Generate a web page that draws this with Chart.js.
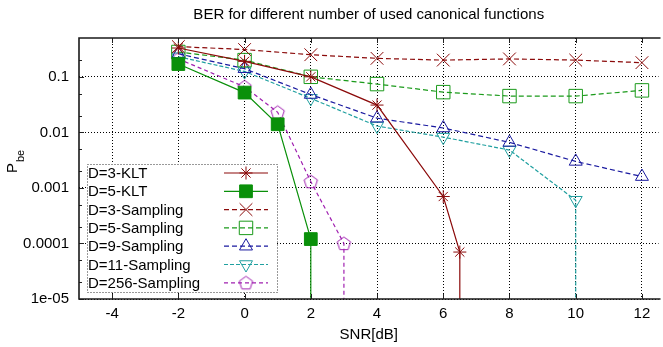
<!DOCTYPE html>
<html>
<head>
<meta charset="utf-8">
<script src="https://cdn.jsdelivr.net/npm/chart.js@4/dist/chart.umd.min.js"></script>
<style>
  html, body { margin: 0; padding: 0; background: #fff; overflow: hidden; }
  #wrap { width: 669px; height: 347px; }
</style>
</head>
<body>
<div id="wrap"><canvas id="myChart"></canvas></div>
<script>
// Data (x = SNR in dB, y = bit error probability)
const klt3X = [-2, 0, 2, 4, 6, 6.5, 6.5];
const klt3Y = [0.33, 0.19, 0.1, 0.031, 0.0007, 0.00007, 1e-8];

const klt5X = [-2, 0, 1, 2, 2];
const klt5Y = [0.17, 0.052, 0.014, 0.00012, 1e-8];

const samp3X = [-2, 0, 2, 4, 6, 8, 10, 12];
const samp3Y = [0.35, 0.31, 0.25, 0.215, 0.2, 0.21, 0.2, 0.18];

const samp5X = [-2, 0, 2, 4, 6, 8, 10, 12];
const samp5Y = [0.28, 0.2, 0.1, 0.074, 0.053, 0.045, 0.045, 0.057];

const samp9X = [-2, 0, 2, 4, 6, 8, 10, 12];
const samp9Y = [0.26, 0.14, 0.048, 0.018, 0.012, 0.0066, 0.003, 0.0016];

const samp11X = [-2, 0, 2, 4, 6, 8, 10, 10];
const samp11Y = [0.23, 0.125, 0.041, 0.013, 0.0082, 0.0048, 0.0006, 1e-8];

const samp256X = [-2, 0, 1, 2, 3, 3];
const samp256Y = [0.21, 0.066, 0.023, 0.0013, 0.0001, 1e-8];

const xTicks = [-4, -2, 0, 2, 4, 6, 8, 10, 12];
const yTicks = [1e-5, 1e-4, 1e-3, 1e-2, 1e-1];
const yTickLabels = ["1e-05", "0.0001", "0.001", "0.01", "0.1"];
const yMinorTicks = [2e-5, 5e-5, 2e-4, 5e-4, 2e-3, 5e-3, 2e-2, 5e-2, 0.2];

const X_MIN = -5, X_MAX = 12.5, Y_MIN = 1e-5, Y_MAX = 0.5;
const FONT = "'Liberation Sans', Arial, Helvetica, sans-serif";
const FS = 15;

function pts(xs, ys) {
    return xs.map((x, i) => ({ x: x, y: ys[i] }));
}

// pentagon marker (no built-in point style for it)
function pentagon(color) {
    const c = document.createElement("canvas");
    c.width = 17; c.height = 17;
    const g = c.getContext("2d");
    g.strokeStyle = color;
    g.lineWidth = 1;
    g.beginPath();
    for (let i = 0; i < 5; i++) {
        const a = -Math.PI / 2 + i * 2 * Math.PI / 5;
        const px = 8.5 + 7 * Math.cos(a), py = 9 + 7 * Math.sin(a);
        if (i === 0) g.moveTo(px, py); else g.lineTo(px, py);
    }
    g.closePath();
    g.stroke();
    return c;
}

const radius = (r) => (ctx) => (ctx.raw && ctx.raw.y < Y_MIN ? 0 : r);

function series(label, xs, ys, color, style, opts) {
    return Object.assign({
        label: label,
        data: pts(xs, ys),
        borderColor: color,
        backgroundColor: "rgba(0,0,0,0)",
        pointBorderColor: color,
        pointBackgroundColor: "rgba(0,0,0,0)",
        borderWidth: 1.2,
        pointBorderWidth: 1,
        pointStyle: style,
        pointRadius: radius(7),
        pointHoverRadius: 0,
        borderDash: [],
        tension: 0,
        fill: false
    }, opts || {});
}

const DARKRED = "#8b0a0a", GREEN = "#0a900a", GREEN2 = "#1a9a1a", BLUE = "#1a1aa0", TEAL = "#20a0a0", MAGENTA = "#a020b0";

const datasets = [
    series("D=3-KLT", klt3X, klt3Y, DARKRED, "star", { pointRadius: radius(6.5) }),
    series("D=5-KLT", klt5X, klt5Y, GREEN, "rect", { pointBackgroundColor: GREEN, pointRadius: radius(9) }),
    series("D=3-Sampling", samp3X, samp3Y, DARKRED, "crossRot", { borderDash: [5, 3], pointRadius: radius(9) }),
    series("D=5-Sampling", samp5X, samp5Y, GREEN2, "rect", { borderDash: [5, 3], pointRadius: radius(9.5) }),
    series("D=9-Sampling", samp9X, samp9Y, BLUE, "triangle", { borderDash: [5, 3], pointRadius: radius(7.5) }),
    series("D=11-Sampling", samp11X, samp11Y, TEAL, "triangle", { borderDash: [4, 2], pointRotation: 180, pointRadius: radius(7.5) }),
    series("D=256-Sampling", samp256X, samp256Y, MAGENTA, pentagon(MAGENTA), { borderDash: [4, 3] })
];

// frame, inward tick marks, y label and the gnuplot-like key box
const decorations = {
    id: "decorations",
    afterDraw(chart) {
        const ctx = chart.ctx, a = chart.chartArea;
        const xs = chart.scales.x, ys = chart.scales.y;
        ctx.save();
        ctx.strokeStyle = "#222";
        ctx.lineWidth = 1;
        ctx.setLineDash([]);
        ctx.beginPath();
        xTicks.forEach(v => {
            const px = Math.round(xs.getPixelForValue(v)) + 0.5;
            ctx.moveTo(px, a.bottom); ctx.lineTo(px, a.bottom - 5);
            ctx.moveTo(px, a.top); ctx.lineTo(px, a.top + 5);
        });
        yTicks.forEach(v => {
            const py = Math.round(ys.getPixelForValue(v)) + 0.5;
            ctx.moveTo(a.left, py); ctx.lineTo(a.left + 5, py);
        });
        yMinorTicks.forEach(v => {
            const py = Math.round(ys.getPixelForValue(v)) + 0.5;
            ctx.moveTo(a.left, py); ctx.lineTo(a.left + 3, py);
        });
        ctx.stroke();

        // frame
        ctx.lineWidth = 1.6;
        ctx.strokeStyle = "#1a1a1a";
        ctx.beginPath();
        ctx.moveTo(a.right + 2, a.top); ctx.lineTo(a.left, a.top);
        ctx.lineTo(a.left, a.bottom); ctx.lineTo(a.right + 2, a.bottom);
        ctx.stroke();

        // y axis title: P with subscript be
        ctx.fillStyle = "#000";
        ctx.translate(17, 173);
        ctx.rotate(-Math.PI / 2);
        ctx.textBaseline = "alphabetic";
        ctx.textAlign = "left";
        ctx.font = FS + "px " + FONT;
        ctx.fillText("P", 0, 0);
        const pw = ctx.measureText("P").width;
        ctx.font = "11px " + FONT;
        ctx.fillText("be", pw + 1, 7);
        ctx.restore();

        // key box
        const bx = 87, by = 164, bw = 190, bh = 128;
        ctx.save();
        ctx.fillStyle = "#fff";
        ctx.fillRect(bx, by, bw, bh);
        ctx.strokeStyle = "#333";
        ctx.lineWidth = 1;
        ctx.setLineDash([1, 2]);
        ctx.strokeRect(bx + 0.5, by + 0.5, bw, bh);
        ctx.font = FS + "px " + FONT;
        ctx.textBaseline = "middle";
        ctx.textAlign = "left";
        chart.data.datasets.forEach((ds, i) => {
            const y = 173 + i * 18.3;
            ctx.fillStyle = "#000";
            ctx.fillText(ds.label, 88, y + 1);
            ctx.strokeStyle = ds.borderColor;
            ctx.lineWidth = ds.borderWidth;
            ctx.setLineDash(ds.borderDash);
            ctx.beginPath();
            ctx.moveTo(224, y); ctx.lineTo(268, y);
            ctx.stroke();
            ctx.setLineDash([]);
            ctx.strokeStyle = ds.pointBorderColor;
            ctx.fillStyle = ds.pointBackgroundColor;
            ctx.lineWidth = ds.pointBorderWidth;
            const r = ds.pointRadius({ raw: { y: 1 } });
            Chart.helpers.drawPoint(ctx, {
                pointStyle: ds.pointStyle,
                rotation: ds.pointRotation || 0,
                radius: r,
                borderWidth: ds.pointBorderWidth
            }, 246, y);
        });
        ctx.restore();
    }
};

const config = {
    type: "line",
    data: { datasets: datasets },
    options: {
        responsive: true,
        maintainAspectRatio: false,
        animation: false,
        events: [],
        layout: { padding: 0 },
        plugins: {
            legend: { display: false },
            tooltip: { enabled: false },
            title: {
                display: true,
                fullSize: false,
                text: "BER for different number of used canonical functions",
                color: "#000",
                font: { family: FONT, size: FS, weight: "normal", lineHeight: 1.2 },
                padding: { top: 6, bottom: 14 }
            }
        },
        scales: {
            x: {
                type: "linear",
                min: X_MIN,
                max: X_MAX,
                afterBuildTicks: (s) => { s.ticks = xTicks.map(v => ({ value: v })); },
                afterFit: (s) => { s.height = 48; },
                ticks: { color: "#000", padding: 6, font: { family: FONT, size: FS } },
                grid: { color: "#000", lineWidth: 1, drawTicks: false },
                border: { display: false, dash: [1, 2] },
                title: {
                    display: true,
                    text: "SNR[dB]",
                    color: "#000",
                    font: { family: FONT, size: FS, lineHeight: 1.2 },
                    padding: { top: 0, bottom: 3 }
                }
            },
            y: {
                type: "logarithmic",
                min: Y_MIN,
                max: Y_MAX,
                afterBuildTicks: (s) => { s.ticks = yTicks.map(v => ({ value: v })); },
                afterFit: (s) => { s.width = 79; },
                ticks: {
                    color: "#000",
                    padding: 10,
                    font: { family: FONT, size: FS },
                    callback: (v) => yTickLabels[yTicks.indexOf(v)]
                },
                grid: { color: "#000", lineWidth: 1, drawTicks: false },
                border: { display: false, dash: [1, 2] }
            }
        }
    },
    plugins: [decorations]
};

new Chart(document.getElementById("myChart"), config);
</script>
</body>
</html>
